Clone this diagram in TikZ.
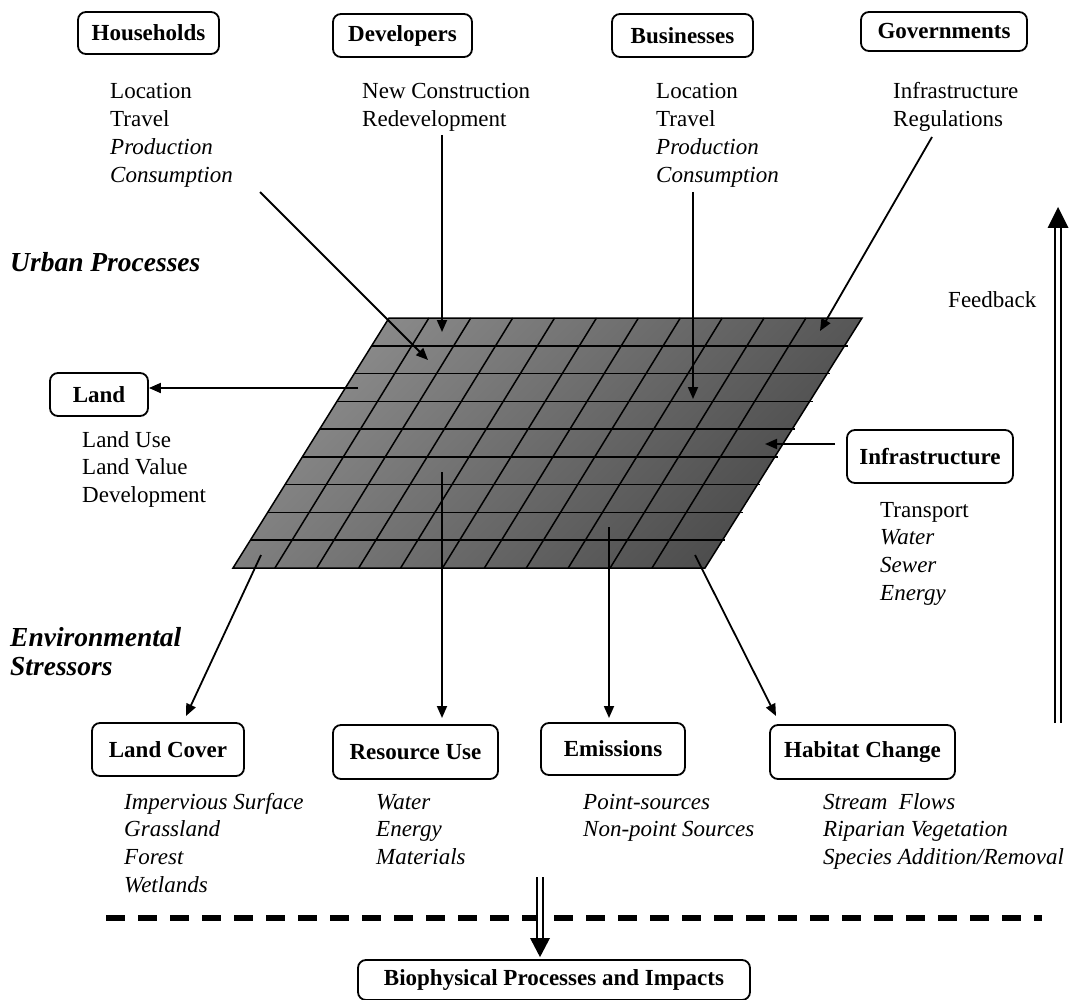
\documentclass[tikz,border=0pt]{standalone}
\usepackage{fontspec}
\setmainfont{Liberation Serif}
\usetikzlibrary{arrows.meta,calc}
\definecolor{gridlight}{HTML}{8C8C8C}
\definecolor{griddark}{HTML}{4A4A4A}
\begin{document}
\begin{tikzpicture}[x=1pt,y=-1pt,
  txt/.style={font=\fontsize{23}{27.7}\selectfont, inner sep=0pt, align=left, anchor=base west},
  itxt/.style={txt, font=\fontsize{23}{27.7}\selectfont\itshape},
  box/.style={draw, line width=1.8pt, rounded corners=8pt, font=\fontsize{23}{27.7}\selectfont\bfseries, inner sep=0pt},
  ttl/.style={font=\fontsize{27.5}{29}\selectfont\bfseries\itshape, inner sep=0pt, align=left, anchor=base west},
  arr/.style={line width=1.8pt, -{Triangle[length=12pt,width=10pt]}},
  gridline/.style={line width=1.5pt},
  dbl/.style={line width=2pt, double distance=3.5pt},
]
\useasboundingbox (0,0) rectangle (1086,1000);

% ---------- grid ----------
\coordinate (gA) at (389,318);
\coordinate (gB) at (862,318);
\coordinate (gC) at (705,568);
\coordinate (gD) at (233,568);
\shade[top color=gridlight, bottom color=griddark, shading angle=45] (gA) -- (gB) -- (gC) -- (gD) -- cycle;
\foreach \i in {1,...,8} {
  \draw[gridline] ($(gA)!\i/9!(gD)$) -- ($(gB)!\i/9!(gC)+(3,0)$);
}
\foreach \k in {1,...,10} {
  \draw[gridline] ({233+41.9*\k},568) -- ({387+41.9*\k},318);
}
\draw[gridline, line join=miter] (gA) -- (gB) -- (gC) -- (gD) -- cycle;

% ---------- top actors ----------
\node[box, minimum width=141pt, minimum height=42pt] (hh) at (148.5,33) {Households};
\node[box, minimum width=139pt, minimum height=43pt] (dev) at (402.5,35.5) {Developers};
\node[box, minimum width=141pt, minimum height=43pt] (bus) at (682.5,35.5) {Businesses};
\node[box, minimum width=166pt, minimum height=39pt] (gov) at (944,31.5) {Governments};

% (anchor = baseline of the last line)
\node[txt] (hhlist) at (110,182.1) {Location\\Travel\\\textit{Production}\\\textit{Consumption}};
\node[txt] (devlist) at (362,126.7) {New Construction\\Redevelopment};
\node[txt] (buslist) at (656,182.1) {Location\\Travel\\\textit{Production}\\\textit{Consumption}};
\node[txt] (govlist) at (893,126.7) {Infrastructure\\Regulations};

% ---------- side boxes ----------
\node[box, minimum width=98pt, minimum height=43pt] (land) at (99,394.5) {Land};
\node[txt] (landlist) at (82,502.4) {Land Use\\Land Value\\Development};
\node[box, minimum width=166pt, minimum height=53pt] (infra) at (930,456.5) {Infrastructure};
\node[txt] (infralist) at (880,600.1) {Transport\\\textit{Water}\\\textit{Sewer}\\\textit{Energy}};

% ---------- titles ----------
\node[ttl] (urban) at (10,272) {Urban Processes};
\node[ttl] (env) at (10,675) {Environmental\\Stressors};
\node[txt] (fb) at (948,307) {Feedback};

% ---------- bottom boxes ----------
\node[box, minimum width=152pt, minimum height=53pt] (lc) at (168,749.5) {Land Cover};
\node[box, minimum width=165pt, minimum height=54pt] (ru) at (415.5,752) {Resource Use};
\node[box, minimum width=144pt, minimum height=52pt] (em) at (613,749) {Emissions};
\node[box, minimum width=185pt, minimum height=54pt] (hc) at (862.5,752) {Habitat Change};
\node[box, minimum width=392pt, minimum height=40pt] (bio) at (554,980) {Biophysical Processes and Impacts};

\node[itxt] (lclist) at (124,892.1) {Impervious Surface\\Grassland\\Forest\\Wetlands};
\node[itxt] (rulist) at (376,864.4) {Water\\Energy\\Materials};
\node[itxt] (emlist) at (583,836.7) {Point-sources\\Non-point Sources};
\node[itxt] (hclist) at (823,864.4) {Stream\ \ Flows\\Riparian Vegetation\\Species Addition/Removal};

% ---------- arrows into the grid ----------
\coordinate (hhS) at (260,192);  \coordinate (hhE) at (428,360);
\coordinate (devS) at (442,135); \coordinate (devE) at (442,332);
\coordinate (busS) at (693,192); \coordinate (busE) at (693,399);
\coordinate (govS) at (932,137); \coordinate (govE) at (820,331);
\coordinate (infraS) at (835,444); \coordinate (infraE) at (765,444);
\draw[arr] (hhS) -- (hhE);
\draw[arr] (devS) -- (devE);
\draw[arr] (busS) -- (busE);
\draw[arr] (govS) -- (govE);
\draw[arr] (infraS) -- (infraE);

% ---------- arrows out of the grid ----------
\coordinate (landS) at (358,388);
\draw[arr] (landS) -- (landS -| land.east);
\coordinate (lcS) at (261,555);  \coordinate (lcE) at (186,716);
\coordinate (ruS) at (442,472);  \coordinate (ruE) at (442,718);
\coordinate (emS) at (609,527);  \coordinate (emE) at (609,718);
\coordinate (hcS) at (695,555);  \coordinate (hcE) at (776,716);
\draw[arr] (lcS) -- (lcE);
\draw[arr] (ruS) -- (ruE);
\draw[arr] (emS) -- (emE);
\draw[arr] (hcS) -- (hcE);

% ---------- dashed separator ----------
\coordinate (dashL) at (106,918);
\coordinate (dashR) at (1042,918);
\draw[line width=6.5pt, dash pattern=on 19pt off 13pt] (dashL) -- (dashR);

% ---------- double arrows ----------
\coordinate (fbS) at (1058,723);
\coordinate (fbH) at (1058,228);
\coordinate (fbT) at (1058,207);
\draw[dbl] (fbS) -- (fbH);
\fill ($(fbH)+(-10.5,0)$) -- ($(fbH)+(10.5,0)$) -- (fbT) -- cycle;

\coordinate (bdS) at (540,877);
\coordinate (bdH) at (540,938);
\coordinate (bdT) at (bdH |- bio.north);
\draw[dbl] (bdS) -- (bdH);
\fill ($(bdH)+(-10,0)$) -- ($(bdH)+(10,0)$) -- ($(bdT)+(0,-2)$) -- cycle;
\end{tikzpicture}
\end{document}
